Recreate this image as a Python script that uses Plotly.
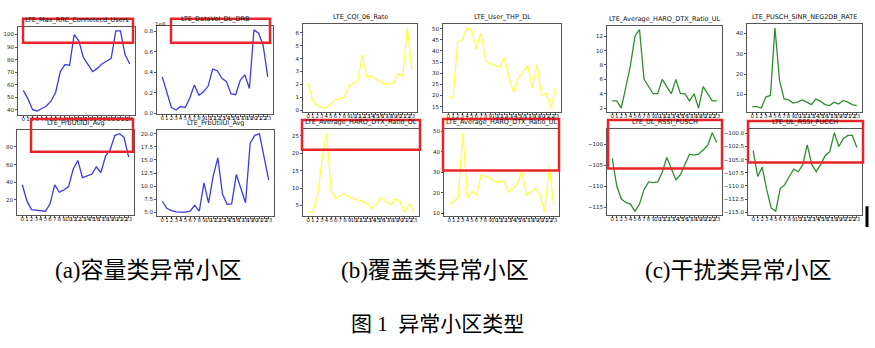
import plotly.graph_objects as go

W, H = 875, 348

hours = list(range(24))
hour_labels = [str(h) for h in hours]

# ---- data ----
max_rrc_users = [55.5, 48.7, 40, 39, 41, 43, 47, 54, 70.5, 76, 75.5, 100, 95, 81.5, 76, 70.5, 73, 76.5, 78.7, 81, 103, 103, 84, 76.5]
datavol_dl_drb = [0.357, 0.217, 0.057, 0.033, 0.067, 0.057, 0.15, 0.277, 0.177, 0.21, 0.267, 0.433, 0.417, 0.343, 0.31, 0.19, 0.183, 0.323, 0.377, 0.243, 0.817, 0.783, 0.667, 0.357]
prb_util_dl = [37.1, 18.5, 8.8, 8, 7.3, 7, 15.5, 37, 28.6, 31.2, 35, 54.7, 64.7, 45.3, 47.2, 49, 57.3, 51, 69.6, 77, 93, 95, 91, 68.4]
prb_util_ul = [7.1, 5.7, 5.3, 5.06, 5.0, 5.0, 5.2, 6.3, 5.2, 10.6, 6.8, 11.9, 15.4, 8.5, 6.5, 6.6, 12.2, 9.5, 6.8, 18.2, 19.7, 20, 15.4, 11.2]

cqi_06_rate = [2.08, 0.75, 0.35, 0.21, 0.16, 0.48, 0.8, 0.88, 1.0, 1.87, 2.08, 2.27, 4.27, 2.56, 2.67, 2.4, 2.21, 2.03, 2.03, 2.13, 2.83, 2.61, 6.4, 3.15]
user_thp_dl = [19.2, 19.2, 44, 45, 50.4, 49.3, 41, 48, 35.7, 34.2, 33.5, 32.7, 37.2, 28, 21.5, 28, 30.5, 33.5, 23.4, 34, 20, 21, 14.4, 23.7]
harq_dtx_dl = [3.3, 3.1, 7.8, 18.2, 25.8, 9, 6.9, 7.8, 8.3, 7.4, 6.9, 6.4, 6.1, 5.2, 4.2, 5.75, 7.4, 6.1, 5.2, 6.9, 6.1, 3.1, 5.5, 3.1]
harq_dtx_ul_b = [14.3, 15.6, 18, 49.2, 17.5, 20.7, 18.8, 28.4, 28.1, 27.1, 25.2, 25.5, 25.8, 20.4, 22, 24.4, 30.3, 18.8, 20.4, 22, 18.8, 10.5, 32.9, 13.7]

harq_dtx_ul_c = [3, 3, 2, 5, 7.9, 12, 12.9, 6, 5, 4, 4, 6, 5, 4, 6, 4, 4, 3, 4, 2, 5, 4, 3, 3]
pusch_sinr_neg2db = [4, 4, 3.3, 8.7, 9.5, 42.8, 17, 7.8, 7.3, 5.7, 6.2, 7.3, 6.2, 5, 7.7, 6.7, 5, 4.5, 6.2, 5.3, 7, 6.2, 5, 4.5]
ul_rssi_pusch = [-103.3, -109.9, -113, -113.8, -114.2, -115.9, -114.2, -110.7, -108.9, -109.1, -108.9, -106.6, -103.1, -106, -108.4, -107.2, -104.8, -102.3, -102.5, -102.3, -101.3, -100.2, -97.2, -99.5]
ul_rssi_pucch = [-103.3, -108.2, -106.4, -110.7, -114.2, -114.8, -110.5, -109.8, -108.2, -106.8, -107.3, -106, -102.2, -105.9, -107.3, -105.9, -104.2, -103.5, -99.9, -102.5, -101, -100.4, -100.4, -102.7]

panel_titles = [
    "LTE_Max_RRC_Connetecd_Users", "LTE_DataVol_DL_DRB", "LTE_PrbUtilDl_Avg", "LTE_PrbUtilUl_Avg",
    "LTE_CQI_06_Rate", "LTE_User_THP_DL", "LTE_Average_HARQ_DTX_Ratio_DL", "LTE_Average_HARQ_DTX_Ratio_UL",
    "LTE_Average_HARQ_DTX_Ratio_UL", "LTE_PUSCH_SINR_NEG2DB_RATE", "LTE_UL_RSSI_PUSCH", "LTE_UL_RSSI_PUCCH",
]
panel_series = [max_rrc_users, datavol_dl_drb, prb_util_dl, prb_util_ul,
                cqi_06_rate, user_thp_dl, harq_dtx_dl, harq_dtx_ul_b,
                harq_dtx_ul_c, pusch_sinr_neg2db, ul_rssi_pusch, ul_rssi_pucch]
captions = ["(a)容量类异常小区", "(b)覆盖类异常小区", "(c)干扰类异常小区"]
figure_title = "图 1  异常小区类型"

# ---- layout / style (pixel boxes: left, right, top, bottom) ----
BLUE, YELLOW, GREEN = "#3c3ce0", "#ffff48", "#2f8f2f"
panels = [
    dict(box=(18, 135, 26, 115), color=BLUE, dtick=10, fmt=""),
    dict(box=(157, 273, 25, 114), color=BLUE, dtick=0.2, fmt=".1f"),
    dict(box=(17, 134, 130, 216), color=BLUE, dtick=20, fmt=""),
    dict(box=(157, 274, 130, 217), color=BLUE, dtick=2.5, fmt=".1f"),
    dict(box=(303, 417, 23, 112), color=YELLOW, dtick=1, fmt=""),
    dict(box=(443, 561, 23, 112), color=YELLOW, dtick=5, fmt=""),
    dict(box=(303, 419, 129, 217), color=YELLOW, dtick=5, fmt=""),
    dict(box=(444, 559, 129, 217), color=YELLOW, dtick=10, fmt=""),
    dict(box=(607, 722, 25, 112), color=GREEN, dtick=2, fmt=""),
    dict(box=(747, 862, 23, 112), color=GREEN, dtick=10, fmt=""),
    dict(box=(607, 722, 129, 216), color=GREEN, dtick=5, fmt=""),
    dict(box=(748, 862, 129, 216), color=GREEN, dtick=2.5, fmt=".1f"),
]
red_boxes = [(23, 133, 18, 42), (171, 270, 18, 42), (31, 133, 119, 152),
             (302, 420, 120, 150), (443, 559, 119, 171),
             (608, 722, 120, 169), (748, 863, 121, 163)]

def px(x):
    return x / W

def py(y):
    return 1 - y / H

fig = go.Figure()
annotations = []
shapes = []
axis_font = dict(family="DejaVu Sans", size=5.5, color="#222")

for i, (p, series, title) in enumerate(zip(panels, panel_series, panel_titles), start=1):
    l, r, t, b = p["box"]
    lo, hi = min(series), max(series)
    pad = (hi - lo) * 0.05
    fig.add_trace(go.Scatter(
        x=hours, y=series, mode="lines",
        line=dict(color=p["color"], width=1.3),
        xaxis=f"x{i}", yaxis=f"y{i}", showlegend=False, hoverinfo="skip"))
    common = dict(showgrid=False, zeroline=False, showline=True, mirror=True,
                  linecolor="#555", linewidth=0.8, ticks="outside", ticklen=2,
                  tickwidth=0.6, tickcolor="#555", tickfont=axis_font, fixedrange=True)
    fig.update_layout(**{
        f"xaxis{i}": dict(domain=[px(l), px(r)], anchor=f"y{i}", range=[-1.15, 24.15],
                          tickmode="array", tickvals=hours, ticktext=hour_labels,
                          tickangle=0, ticklabelstandoff=-4, **common),
        f"yaxis{i}": dict(domain=[py(b), py(t)], anchor=f"x{i}", range=[lo - pad, hi + pad],
                          dtick=p["dtick"], tickformat=p["fmt"], **common),
    })
    annotations.append(dict(x=px((l + r) / 2), y=py(t - 0.5), xref="paper", yref="paper",
                            text=title, showarrow=False, xanchor="center", yanchor="bottom",
                            font=dict(family="DejaVu Sans", size=6.5, color="#111")))

# scale factor label on DataVol panel
annotations.append(dict(x=px(160), y=py(23), xref="paper", yref="paper", text="1e8",
                        showarrow=False, xanchor="center", yanchor="middle",
                        font=dict(family="DejaVu Sans", size=5.5, color="#222")))

for (l, r, t, b) in red_boxes:
    shapes.append(dict(type="rect", xref="paper", yref="paper",
                       x0=px(l), x1=px(r), y0=py(b), y1=py(t),
                       line=dict(color="#e8262a", width=2.5)))

shapes.append(dict(type="line", xref="paper", yref="paper",
                   x0=px(867), x1=px(867), y0=py(228), y1=py(207),
                   line=dict(color="black", width=3)))

cap_font = dict(family="Liberation Serif, Noto Sans CJK SC", size=23, color="black")
title_font = dict(family="Liberation Serif, Noto Sans CJK SC", size=21, color="black")
for cx, text in zip([148, 435, 738], captions):
    annotations.append(dict(x=px(cx), y=py(272), xref="paper", yref="paper", text=text,
                            showarrow=False, xanchor="center", yanchor="middle", font=cap_font))
annotations.append(dict(x=px(437), y=py(326), xref="paper", yref="paper", text=figure_title,
                        showarrow=False, xanchor="center", yanchor="middle", font=title_font))

fig.update_layout(width=W, height=H, margin=dict(l=0, r=0, t=0, b=0),
                  paper_bgcolor="white", plot_bgcolor="white",
                  annotations=annotations, shapes=shapes)

fig.write_html("out.html", config={"displayModeBar": False})
